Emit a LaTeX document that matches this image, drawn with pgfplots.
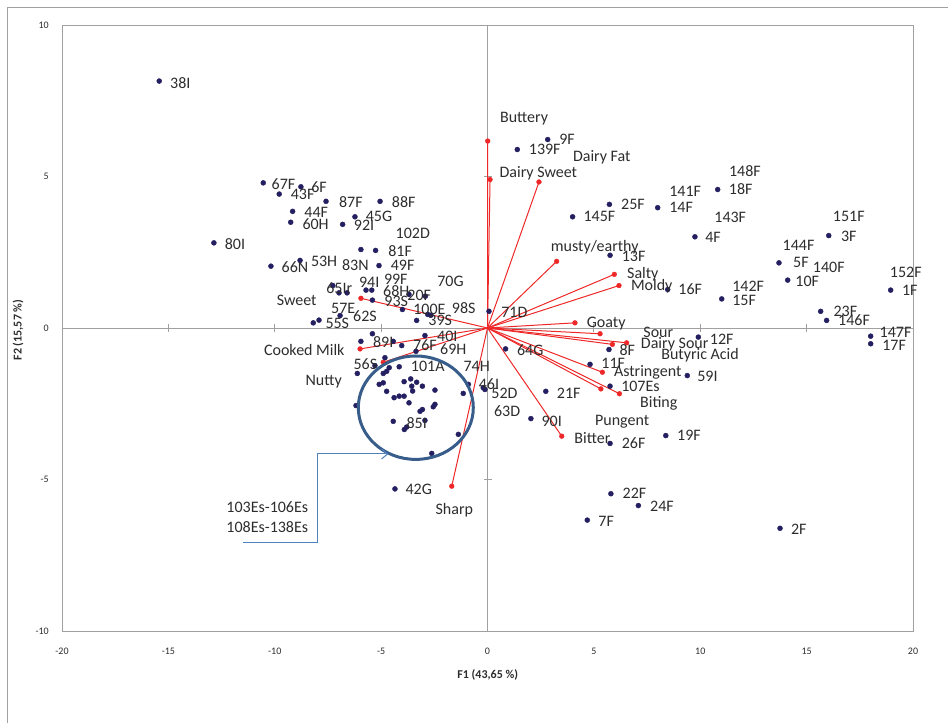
\documentclass[border=0pt]{standalone}
\usepackage{pgfplots}
\pgfplotsset{compat=1.18}
\usepackage{pgfplotstable}
\usepackage{fontspec}
\setmainfont{Carlito}
\usetikzlibrary{arrows.meta}
\definecolor{dotc}{RGB}{35,31,96}
\definecolor{vecred}{RGB}{238,40,40}
\definecolor{labtext}{RGB}{45,45,45}
\definecolor{framec}{RGB}{160,160,160}
\definecolor{circc}{RGB}{56,93,138}
\definecolor{callc}{RGB}{79,129,189}

\pgfplotstableread{
x y
-15.43 8.15
-10.54 4.79
-8.77 4.66
-9.79 4.42
-7.59 4.18
-5.05 4.18
-9.16 3.85
-6.23 3.67
-9.25 3.49
-6.81 3.42
-12.86 2.81
-5.95 2.59
-5.26 2.56
-10.18 2.04
-8.81 2.23
-5.10 2.06
-7.27 1.40
-6.98 1.16
-6.60 1.16
-5.71 1.25
-5.44 1.25
-5.41 0.92
-4.00 0.61
-3.69 1.11
-2.92 1.05
-3.33 0.25
-2.81 0.45
-2.66 0.42
-6.93 0.41
-8.19 0.17
-7.92 0.26
0.07 0.55
-5.41 -0.19
-5.95 -0.44
-4.43 -0.44
-4.03 -0.58
-2.94 -0.25
-3.36 -0.77
-4.82 -0.98
-5.29 -1.24
-6.12 -1.50
-4.90 -1.50
-4.74 -1.43
-4.62 -1.31
-4.15 -1.28
-3.61 -1.68
-3.92 -1.77
-3.33 -1.79
-3.56 -1.92
-3.06 -1.92
-2.47 -2.05
-4.90 -1.81
-5.09 -1.86
-4.74 -2.09
-4.39 -2.30
-4.15 -2.25
-3.92 -2.25
-3.69 -2.47
-3.52 -2.08
-3.17 -2.75
-3.06 -2.69
-2.55 -2.60
-2.47 -2.52
-6.18 -2.56
-4.43 -3.08
-3.91 -3.35
-3.80 -3.27
-2.94 -3.05
-1.37 -3.51
-2.62 -4.14
-1.14 -2.16
-0.90 -1.86
-0.20 -1.97
-0.12 -2.03
0.85 -0.69
-4.35 -5.31
1.40 5.89
2.83 6.22
5.73 4.08
4.00 3.67
8.00 3.97
10.82 4.57
9.75 3.01
16.04 3.05
13.70 2.15
14.11 1.58
5.76 2.40
8.47 1.27
11.01 0.96
18.95 1.25
15.66 0.55
15.94 0.25
9.91 -0.30
18.01 -0.27
18.01 -0.52
5.71 -0.71
4.82 -1.20
9.39 -1.57
5.76 -1.92
2.74 -2.09
2.04 -2.99
5.76 -3.81
8.38 -3.55
5.80 -5.47
7.09 -5.86
4.69 -6.34
13.75 -6.61
}\obs

\pgfplotstableread{
x y
0.01 6.17
0.12 4.90
2.42 4.82
3.25 2.20
5.96 1.77
6.18 1.40
4.11 0.17
5.29 -0.19
5.87 -0.54
6.54 -0.49
5.40 -1.46
5.33 -2.01
6.20 -2.17
3.49 -3.57
-1.68 -5.22
-5.95 0.98
-5.99 -0.69
-4.90 -1.13
}\vars

\pgfplotstableread[col sep=comma]{
x,y,label
-14.44,8.07,38I
-9.59,4.76,67F
-7.92,4.65,6F
-8.69,4.40,43F
-6.42,4.17,87F
-3.94,4.17,88F
-8.05,3.83,44F
-5.10,3.67,45G
-8.08,3.44,60H
-5.80,3.38,92I
-3.51,3.11,102D
-4.11,2.53,81F
-9.05,2.02,66N
-7.68,2.20,53H
-6.21,2.06,83N
-3.99,2.06,49F
-11.87,2.76,80I
-5.56,1.51,94I
-4.31,1.60,99F
-1.74,1.54,70G
-6.97,1.33,65Ir
-4.29,1.21,68H
-3.21,1.08,20F
-4.29,0.88,93S
-6.78,0.63,57E
-5.76,0.39,62S
-2.73,0.61,100E
-1.12,0.67,98S
-2.22,0.26,39S
-7.06,0.14,55S
1.26,0.52,71D
-4.90,-0.47,89I
-1.89,-0.27,40I
-2.94,-0.57,76F
-1.61,-0.71,69H
-5.74,-1.20,56S
-2.81,-1.28,101A
-0.51,-1.28,74H
0.07,-1.86,46I
0.80,-2.16,52D
0.92,-2.75,63D
3.02,-3.08,90I
3.82,-2.16,21F
2.01,-0.74,64G
6.57,-0.73,8F
5.91,-1.17,11F
7.19,-1.94,107Es
11.01,-0.36,12F
10.34,-1.61,59I
6.87,-3.81,26F
9.47,-3.55,19F
6.91,-5.47,22F
8.20,-5.90,24F
5.58,-6.38,7F
14.63,-6.63,2F
19.18,-0.14,147F
19.11,-0.58,17F
16.82,0.55,23F
17.23,0.25,146F
-3.33,-3.15,85I
-3.23,-5.33,42G
2.69,5.89,139F
3.74,6.22,9F
12.10,5.17,148F
11.90,4.57,18F
9.29,4.51,141F
9.10,3.97,14F
6.84,4.08,25F
5.26,3.67,145F
11.41,3.64,143F
10.60,2.98,4F
16.98,3.69,151F
16.98,3.03,3F
14.62,2.73,144F
14.73,2.15,5F
16.04,1.99,140F
15.03,1.54,10F
19.66,1.82,152F
19.85,1.24,1F
6.87,2.37,13F
9.53,1.27,16F
12.25,1.38,142F
12.06,0.92,15F
1.72,6.90,Buttery
5.37,5.62,Dairy Fat
2.39,5.12,Dairy Sweet
5.04,2.65,musty/earthy
7.30,1.77,Salty
7.72,1.38,Moldy
5.58,0.15,Goaty
8.03,-0.16,Sour
8.80,-0.54,Dairy Sour
9.99,-0.91,Butyric Acid
7.53,-1.48,Astringent
8.05,-2.49,Biting
6.33,-3.11,Pungent
4.93,-3.62,Bitter
-1.56,-6.01,Sharp
-8.97,0.92,Sweet
-8.61,-0.71,Cooked Milk
-7.70,-1.76,Nutty
}\labs

\begin{document}
\begin{tikzpicture}[x=1pt,y=1pt]
\path[use as bounding box] (0,0) rectangle (948,723);
\draw[framec, line width=0.8pt] (7,0) -- (7,716) -- (948,716);
% crossing axes with ticks
\begin{axis}[at={(62pt,92pt)}, anchor=south west, scale only axis,
  width=851pt, height=606pt, xmin=-20, xmax=20, ymin=-10, ymax=10,
  axis lines=middle, axis line style={-, draw=framec, line width=0.8pt},
  xtick={-15,-10,-5,5,10,15}, ytick={-5,5},
  xticklabels={}, yticklabels={},
  tick style={draw=framec, line width=0.8pt}, tick align=center,
  major tick length=8pt]
\end{axis}
% main axis
\begin{axis}[at={(62pt,92pt)}, anchor=south west, scale only axis,
  width=851pt, height=606pt, xmin=-20, xmax=20, ymin=-10, ymax=10,
  axis line style={draw=framec, line width=0.8pt}, clip=false,
  xtick={-20,-15,...,20}, ytick={-10,-5,...,10},
  xticklabels={-20,-15,-10,-5,0,5,10,15,20},
  yticklabels={-10,-5,0,5,10},
  major tick length=0pt, tick style={draw=none},
  xticklabel style={anchor=center, yshift=-20pt, font=\fontsize{10}{12}\selectfont, text=labtext},
  yticklabel style={anchor=east, inner sep=0pt, xshift=-13pt, font=\fontsize{10}{12}\selectfont, text=labtext}]
\addplot[vecred, line width=1pt, no markers, quiver={u=\thisrow{x}, v=\thisrow{y}}]
  table[x expr=0, y expr=0] {\vars};
\addplot[only marks, mark=*, mark size=2.4pt, color=vecred] table {\vars};
\addplot[only marks, mark=*, mark size=2.5pt, color=dotc] table {\obs};
\addplot[only marks, mark=none, nodes near coords, point meta=explicit symbolic,
  every node near coord/.append style={anchor=center, inner sep=0pt, text=labtext, font=\fontsize{16}{19}\selectfont}]
  table[col sep=comma, x=x, y=y, meta=label] {\labs};
\end{axis}
% highlight circle and callout
\draw[circc, line width=3pt] (415.8,315.3) ellipse [x radius=57.5, y radius=51.7];
\draw[callc, line width=1pt, -{Straight Barb[length=6pt, width=10pt]}] (243.3,180.3) -- (317.7,180.3) -- (317.7,269) -- (388.3,269);
\node[text=labtext, font=\fontsize{16}{19}\selectfont] at (267.3,216.3) {103Es-106Es};
\node[text=labtext, font=\fontsize{16}{19}\selectfont] at (267.3,195.7) {108Es-138Es};
% axis titles
\node[text=labtext, font=\fontsize{12}{14}\selectfont\bfseries] at (487.7,48) {F1 (43,65 \%)};
\node[text=labtext, font=\fontsize{12}{14}\selectfont\bfseries, rotate=90] at (18,393) {F2 (15,57 \%)};
\end{tikzpicture}
\end{document}
